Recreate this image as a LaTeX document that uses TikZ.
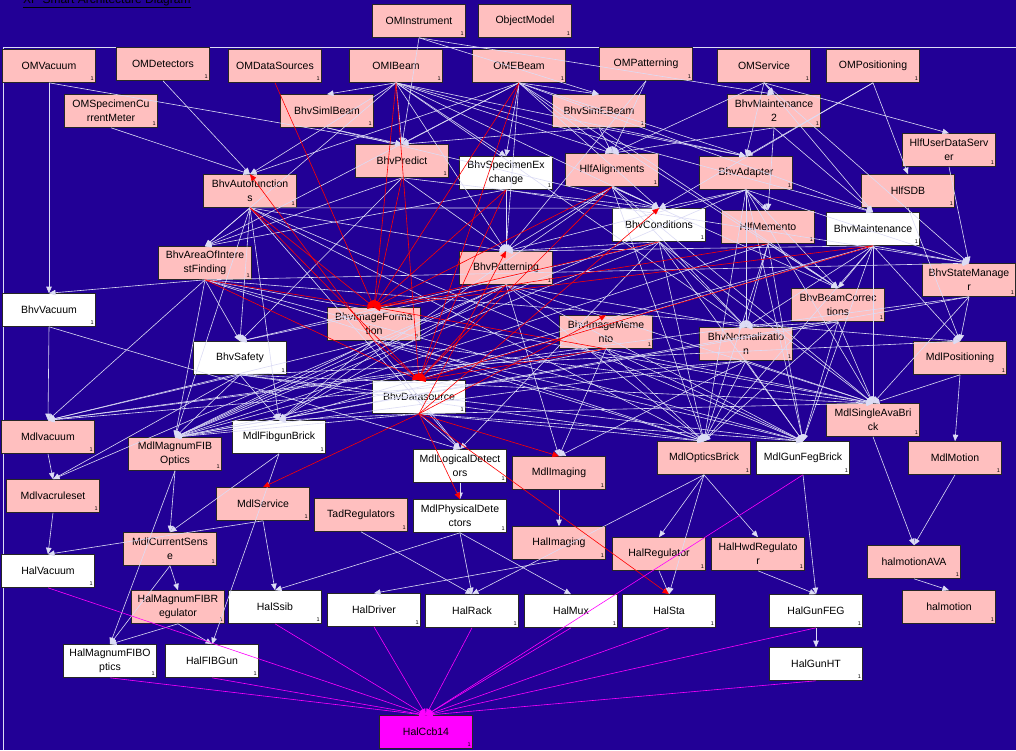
\documentclass[tikz,border=0pt]{standalone}
\usepackage{fontspec}
\setmainfont{Liberation Sans}
\setsansfont{Liberation Sans}
\usepackage{tikz}
\usetikzlibrary{arrows.meta}
\definecolor{bgblue}{HTML}{220096}
\definecolor{clspink}{HTML}{FFBFBF}
\definecolor{deplav}{HTML}{DCDCF5}
\definecolor{busmag}{HTML}{FF00FF}
\tikzset{>/.tip={Triangle[length=6.5pt,width=5.5pt]},
  cls/.style={draw=black!85, line width=0.6pt, fill=clspink, minimum width=93pt,
    minimum height=33pt, inner sep=1pt, align=center,
    font=\sffamily\fontsize{10.5}{14}\selectfont},
  plain/.style={cls, fill=white},
  ccb/.style={cls, fill=busmag},
  cnt/.style={anchor=south east, inner sep=1.8pt, font=\sffamily\fontsize{5.5}{6}\selectfont},
  dep/.style={draw=deplav, line width=0.6pt, ->},
  hot/.style={draw=red, line width=0.6pt, ->},
  bus/.style={draw=busmag, line width=0.6pt, ->}}

\begin{document}
\begin{tikzpicture}[x=1pt,y=-1pt]
\useasboundingbox (0,0) rectangle (1016,750);
\fill[bgblue] (0,0) rectangle (1016,750);
\node[anchor=base west, inner sep=0pt, font=\sffamily\fontsize{12}{12}\selectfont] (title) at (23,3) {\underline{XP Smart Architecture Diagram}};
\draw[deplav, line width=0.9pt] (3,750) -- (3,47) -- (1016,47);

% object model
\node[cls] (OMInstrument) at (419,21) {OMInstrument};
\node[cls] (ObjectModel) at (525,21) {ObjectModel};
\node[cls] (OMVacuum) at (49,66) {OMVacuum};
\node[cls] (OMDetectors) at (163,64) {OMDetectors};
\node[cls] (OMDataSources) at (275,66) {OMDataSources};
\node[cls] (OMIBeam) at (396,66) {OMIBeam};
\node[cls] (OMEBeam) at (519,66) {OMEBeam};
\node[cls] (OMPatterning) at (646,64) {OMPatterning};
\node[cls] (OMService) at (764,66) {OMService};
\node[cls] (OMPositioning) at (873,66) {OMPositioning};
\node[cls] (OMSpecimenCurrentMeter) at (111,111) {OMSpecimenCu\\rrentMeter};

% behaviour
\node[cls] (BhvSimlBeam) at (327,111) {BhvSimlBeam};
\node[cls] (BhvSimEBeam) at (599,111) {BhvSimEBeam};
\node[cls] (BhvMaintenance2) at (774,111) {BhvMaintenance\\2};
\node[cls] (HlfUserDataServer) at (949,150) {HlfUserDataServ\\er};
\node[cls] (BhvPredict) at (402,161) {BhvPredict};
\node[plain] (BhvSpecimenExchange) at (506,173) {BhvSpecimenEx\\change};
\node[cls] (HlfAlignments) at (612,170) {HlfAlignments};
\node[cls] (BhvAdapter) at (746,173) {BhvAdapter};
\node[cls] (HlfSDB) at (908,191) {HlfSDB};
\node[cls] (BhvAutofunctions) at (250,191) {BhvAutofunction\\s};
\node[plain] (BhvConditions) at (659,225) {BhvConditions};
\node[cls] (HlfMemento) at (768,227) {HlfMemento};
\node[plain] (BhvMaintenance) at (873,229) {BhvMaintenance};
\node[cls] (BhvAreaOfInterestFinding) at (205,263) {BhvAreaOfIntere\\stFinding};
\node[cls] (BhvPatterning) at (506,268) {BhvPatterning};
\node[cls] (BhvStateManager) at (969,280) {BhvStateManage\\r};
\node[plain] (BhvVacuum) at (49,310) {BhvVacuum};
\node[cls] (BhvBeamCorrections) at (838,305) {BhvBeamCorrec\\tions};
\node[cls] (BhvImageFormation) at (374,324) {BhvImageForma\\tion};
\node[cls] (BhvImageMemento) at (606,332) {BhvImageMeme\\nto};
\node[cls] (BhvNormalization) at (746,344) {BhvNormalizatio\\n};
\node[plain] (BhvSafety) at (240,358) {BhvSafety};
\node[plain] (BhvDatasource) at (419,397) {BhvDatasource};

% models
\node[cls] (MdlPositioning) at (960,358) {MdlPositioning};
\node[cls] (MdlSingleAvaBrick) at (873,420) {MdlSingleAvaBri\\ck};
\node[cls] (Mdlvacuum) at (48,437) {Mdlvacuum};
\node[plain] (MdlFibgunBrick) at (279,437) {MdlFibgunBrick};
\node[cls] (MdlMagnumFIBOptics) at (175,454) {MdlMagnumFIB\\Optics};
\node[plain] (MdlLogicalDetectors) at (460,466) {MdlLogicalDetect\\ors};
\node[cls] (MdlOpticsBrick) at (704,458) {MdlOpticsBrick};
\node[plain] (MdlGunFegBrick) at (803,458) {MdlGunFegBrick};
\node[cls] (MdlMotion) at (955,458) {MdlMotion};
\node[cls] (MdlImaging) at (559,473) {MdlImaging};
\node[cls] (Mdlvacruleset) at (53,496) {Mdlvacruleset};
\node[cls] (MdlService) at (263,504) {MdlService};
\node[cls] (TadRegulators) at (361,515) {TadRegulators};
\node[plain] (MdlPhysicalDetectors) at (460,516) {MdlPhysicalDete\\ctors};
\node[cls] (MdlCurrentSense) at (170,549) {MdlCurrentSens\\e};

% hardware
\node[cls] (HalImaging) at (559,543) {HalImaging};
\node[cls] (HalRegulator) at (659,554) {HalRegulator};
\node[cls] (HalHwdRegulator) at (758,554) {HalHwdRegulato\\r};
\node[cls] (halmotionAVA) at (914,562) {halmotionAVA};
\node[plain] (HalVacuum) at (48,571) {HalVacuum};
\node[cls] (HalMagnumFIBRegulator) at (178,607) {HalMagnumFIBR\\egulator};
\node[plain] (HalSsib) at (275,607) {HalSsib};
\node[plain] (HalDriver) at (374,610) {HalDriver};
\node[plain] (HalRack) at (472,611) {HalRack};
\node[plain] (HalMux) at (571,611) {HalMux};
\node[plain] (HalSta) at (669,611) {HalSta};
\node[plain] (HalGunFEG) at (816,611) {HalGunFEG};
\node[cls] (halmotion) at (949,607) {halmotion};
\node[plain] (HalMagnumFIBOptics) at (110,661) {HalMagnumFIBO\\ptics};
\node[plain] (HalFIBGun) at (212,661) {HalFIBGun};
\node[plain] (HalGunHT) at (816,664) {HalGunHT};
\node[ccb] (HalCcb14) at (426,732) {HalCcb14};

% multiplicity marks
\foreach \n in {OMInstrument, ObjectModel, OMVacuum, OMDetectors, OMDataSources, OMIBeam,
  OMEBeam, OMPatterning, OMService, OMPositioning, OMSpecimenCurrentMeter, BhvSimlBeam,
  BhvSimEBeam, BhvMaintenance2, HlfUserDataServer, BhvPredict, BhvSpecimenExchange,
  HlfAlignments, BhvAdapter, HlfSDB, BhvAutofunctions, BhvConditions, HlfMemento,
  BhvMaintenance, BhvAreaOfInterestFinding, BhvPatterning, BhvStateManager, BhvVacuum,
  BhvBeamCorrections, BhvImageFormation, BhvImageMemento, BhvNormalization, BhvSafety,
  BhvDatasource, MdlPositioning, MdlSingleAvaBrick, Mdlvacuum, MdlFibgunBrick,
  MdlMagnumFIBOptics, MdlLogicalDetectors, MdlOpticsBrick, MdlGunFegBrick, MdlMotion,
  MdlImaging, Mdlvacruleset, MdlService, TadRegulators, MdlPhysicalDetectors,
  MdlCurrentSense, HalImaging, HalRegulator, HalHwdRegulator, halmotionAVA, HalVacuum,
  HalMagnumFIBRegulator, HalSsib, HalDriver, HalRack, HalMux, HalSta, HalGunFEG,
  halmotion, HalMagnumFIBOptics, HalFIBGun, HalGunHT, HalCcb14}
  \node[cnt] at (\n.south east) {1};

% dependencies
\foreach \a/\b in {OMVacuum/BhvVacuum, OMVacuum/BhvPredict, OMDetectors/BhvAutofunctions,
  OMSpecimenCurrentMeter/BhvAutofunctions, OMIBeam/BhvSimlBeam, OMIBeam/BhvPredict,
  OMIBeam/BhvAreaOfInterestFinding, OMIBeam/BhvAutofunctions, OMIBeam/BhvSpecimenExchange,
  OMIBeam/HlfAlignments, OMIBeam/BhvConditions, OMIBeam/BhvAdapter, OMIBeam/BhvMaintenance,
  OMIBeam/BhvPatterning, OMIBeam/BhvNormalization, OMEBeam/BhvSimEBeam, OMEBeam/BhvPredict,
  OMEBeam/BhvAutofunctions, OMEBeam/BhvSpecimenExchange, OMEBeam/HlfAlignments,
  OMEBeam/BhvAdapter, OMEBeam/BhvConditions, OMEBeam/BhvAreaOfInterestFinding,
  OMEBeam/BhvPatterning, OMEBeam/BhvMaintenance, OMEBeam/BhvBeamCorrections,
  OMPatterning/BhvPatterning, OMPatterning/HlfAlignments, OMService/BhvMaintenance2,
  OMService/HlfUserDataServer, OMService/HlfAlignments, OMService/BhvMaintenance,
  OMService/BhvAdapter, OMService/BhvStateManager, OMPositioning/HlfSDB,
  OMPositioning/BhvAdapter, OMPositioning/BhvConditions, OMInstrument/BhvSimEBeam,
  OMInstrument/BhvMaintenance2, OMInstrument/BhvPredict,
  BhvSimlBeam/BhvPredict, BhvSimlBeam/BhvConditions, BhvSimEBeam/BhvPredict,
  BhvSimEBeam/HlfAlignments, BhvSimEBeam/BhvAdapter, BhvSimEBeam/BhvBeamCorrections,
  BhvMaintenance2/HlfMemento, BhvMaintenance2/BhvMaintenance, BhvMaintenance2/HlfAlignments,
  BhvPredict/BhvAreaOfInterestFinding, BhvPredict/BhvConditions, BhvPredict/BhvPatterning,
  BhvPredict/BhvSafety, BhvSpecimenExchange/BhvPatterning,
  BhvSpecimenExchange/BhvAreaOfInterestFinding, BhvSpecimenExchange/BhvStateManager,
  HlfAlignments/BhvConditions, HlfAlignments/BhvPatterning, HlfAlignments/BhvNormalization,
  HlfAlignments/BhvBeamCorrections, BhvAdapter/HlfMemento, BhvAdapter/BhvConditions,
  BhvAdapter/BhvPatterning, BhvAdapter/BhvNormalization, BhvAdapter/BhvStateManager,
  BhvAdapter/BhvBeamCorrections, HlfSDB/MdlPositioning, HlfUserDataServer/BhvStateManager,
  BhvAutofunctions/BhvAreaOfInterestFinding, BhvAutofunctions/BhvSafety,
  BhvAutofunctions/BhvPatterning, BhvAutofunctions/BhvConditions,
  BhvConditions/BhvPatterning, BhvConditions/BhvNormalization, BhvConditions/BhvSafety,
  HlfMemento/BhvNormalization, HlfMemento/BhvBeamCorrections,
  BhvMaintenance/BhvStateManager, BhvMaintenance/BhvBeamCorrections,
  BhvMaintenance/BhvNormalization, BhvMaintenance/BhvPatterning,
  BhvMaintenance/MdlPositioning, BhvAreaOfInterestFinding/BhvVacuum,
  BhvAreaOfInterestFinding/BhvSafety, BhvPatterning/BhvSafety,
  BhvPatterning/BhvNormalization, BhvStateManager/MdlPositioning,
  BhvBeamCorrections/BhvNormalization, BhvAreaOfInterestFinding/BhvStateManager}
  \draw[dep] (\a.south) -- (\b.north);

\foreach \a/\b in {BhvVacuum/Mdlvacuum, BhvSafety/Mdlvacuum, BhvSafety/Mdlvacruleset,
  BhvSafety/MdlFibgunBrick, BhvSafety/MdlMagnumFIBOptics, BhvSafety/MdlOpticsBrick,
  BhvSafety/MdlGunFegBrick, BhvAreaOfInterestFinding/MdlMagnumFIBOptics,
  BhvAreaOfInterestFinding/MdlOpticsBrick, BhvAreaOfInterestFinding/Mdlvacuum,
  BhvAutofunctions/MdlMagnumFIBOptics, BhvAutofunctions/MdlFibgunBrick,
  BhvAutofunctions/MdlOpticsBrick, BhvAutofunctions/MdlLogicalDetectors,
  BhvImageFormation/MdlMagnumFIBOptics, BhvImageFormation/MdlFibgunBrick,
  BhvImageFormation/MdlLogicalDetectors, BhvImageFormation/MdlOpticsBrick,
  BhvImageFormation/Mdlvacuum, BhvDatasource/MdlLogicalDetectors,
  BhvDatasource/MdlMagnumFIBOptics, BhvDatasource/MdlFibgunBrick,
  BhvDatasource/MdlOpticsBrick, BhvPatterning/MdlMagnumFIBOptics,
  BhvPatterning/MdlFibgunBrick, BhvPatterning/MdlOpticsBrick, BhvPatterning/MdlGunFegBrick,
  BhvPatterning/MdlImaging, BhvConditions/MdlMagnumFIBOptics, BhvConditions/MdlOpticsBrick,
  BhvConditions/MdlGunFegBrick, BhvConditions/MdlSingleAvaBrick,
  BhvConditions/MdlLogicalDetectors, HlfAlignments/MdlOpticsBrick,
  HlfAlignments/MdlFibgunBrick, HlfAlignments/MdlSingleAvaBrick, BhvImageMemento/MdlImaging,
  BhvImageMemento/MdlOpticsBrick, BhvImageMemento/MdlGunFegBrick,
  BhvImageMemento/MdlMagnumFIBOptics, BhvImageMemento/MdlSingleAvaBrick,
  BhvNormalization/MdlOpticsBrick, BhvNormalization/MdlGunFegBrick,
  BhvNormalization/MdlSingleAvaBrick, BhvNormalization/MdlImaging,
  BhvBeamCorrections/MdlOpticsBrick, BhvBeamCorrections/MdlGunFegBrick,
  BhvBeamCorrections/MdlSingleAvaBrick, BhvMaintenance/MdlOpticsBrick,
  BhvMaintenance/MdlGunFegBrick, BhvMaintenance/MdlMagnumFIBOptics,
  BhvMaintenance/MdlSingleAvaBrick, BhvMaintenance/MdlFibgunBrick,
  BhvAdapter/MdlOpticsBrick, BhvAdapter/MdlGunFegBrick, BhvAdapter/MdlSingleAvaBrick,
  HlfMemento/MdlOpticsBrick, HlfMemento/MdlGunFegBrick, BhvStateManager/MdlSingleAvaBrick,
  MdlPositioning/MdlSingleAvaBrick, MdlPositioning/MdlMotion,
  MdlLogicalDetectors/MdlPhysicalDetectors, MdlMagnumFIBOptics/MdlCurrentSense,
  BhvAreaOfInterestFinding/MdlPositioning, BhvAreaOfInterestFinding/MdlSingleAvaBrick,
  BhvSafety/MdlPositioning, BhvStateManager/MdlMagnumFIBOptics, BhvStateManager/Mdlvacuum,
  BhvBeamCorrections/MdlMagnumFIBOptics, BhvNormalization/MdlMagnumFIBOptics,
  BhvNormalization/Mdlvacuum, HlfMemento/MdlMagnumFIBOptics, BhvAdapter/MdlMagnumFIBOptics,
  BhvImageMemento/Mdlvacuum, BhvPatterning/Mdlvacruleset, BhvPatterning/MdlSingleAvaBrick,
  BhvImageFormation/MdlSingleAvaBrick, BhvDatasource/MdlSingleAvaBrick,
  BhvDatasource/MdlGunFegBrick, BhvImageFormation/MdlGunFegBrick,
  BhvAutofunctions/MdlGunFegBrick, BhvSafety/MdlSingleAvaBrick,
  BhvVacuum/MdlLogicalDetectors, BhvAreaOfInterestFinding/MdlGunFegBrick}
  \draw[dep] (\a.south) -- (\b.north);

\foreach \a/\b in {Mdlvacuum/Mdlvacruleset, Mdlvacruleset/HalVacuum, MdlService/HalVacuum,
  MdlService/HalSsib, MdlFibgunBrick/MdlCurrentSense, MdlFibgunBrick/HalFIBGun,
  MdlMagnumFIBOptics/HalMagnumFIBOptics, MdlCurrentSense/HalMagnumFIBRegulator,
  MdlCurrentSense/HalMagnumFIBOptics, HalMagnumFIBRegulator/HalMagnumFIBOptics,
  HalMagnumFIBRegulator/HalFIBGun, MdlPhysicalDetectors/HalSsib, MdlPhysicalDetectors/HalRack,
  MdlPhysicalDetectors/HalMux, TadRegulators/HalRack, MdlImaging/HalImaging,
  HalImaging/HalDriver, MdlOpticsBrick/HalRegulator, MdlOpticsBrick/HalHwdRegulator,
  MdlOpticsBrick/HalSta, MdlOpticsBrick/HalRack, HalRegulator/HalSta,
  HalHwdRegulator/HalGunFEG, MdlGunFegBrick/HalGunFEG, MdlSingleAvaBrick/halmotionAVA,
  MdlMotion/halmotionAVA, halmotionAVA/halmotion, HalGunFEG/HalGunHT}
  \draw[dep] (\a.south) -- (\b.north);

% image data flow
\foreach \a in {OMDataSources, OMIBeam, OMEBeam, BhvAutofunctions, BhvAreaOfInterestFinding,
  HlfAlignments, BhvConditions, HlfMemento, BhvMaintenance, BhvImageMemento,
  BhvSpecimenExchange, BhvPredict}
  \draw[hot] (\a.south) -- (BhvImageFormation.north);
\foreach \a in {OMIBeam, OMEBeam, BhvAutofunctions, BhvAreaOfInterestFinding, HlfAlignments,
  BhvImageMemento, BhvMaintenance, BhvSpecimenExchange, BhvPatterning, BhvImageFormation}
  \draw[hot] (\a.south) -- (BhvDatasource.north);
\foreach \b in {BhvPatterning, BhvConditions, BhvImageMemento, MdlImaging,
  MdlPhysicalDetectors, MdlService, HalSta}
  \draw[hot] (BhvDatasource.south) -- (\b.north);
\draw[hot] (BhvImageFormation.south) -- (BhvAutofunctions.north);

% bus
\foreach \a in {HalVacuum, HalMagnumFIBOptics, HalFIBGun, HalSsib, HalDriver, HalRack,
  HalMux, HalSta, HalGunFEG, HalGunHT, MdlGunFegBrick}
  \draw[bus] (\a.south) -- (HalCcb14.north);
\end{tikzpicture}
\end{document}
